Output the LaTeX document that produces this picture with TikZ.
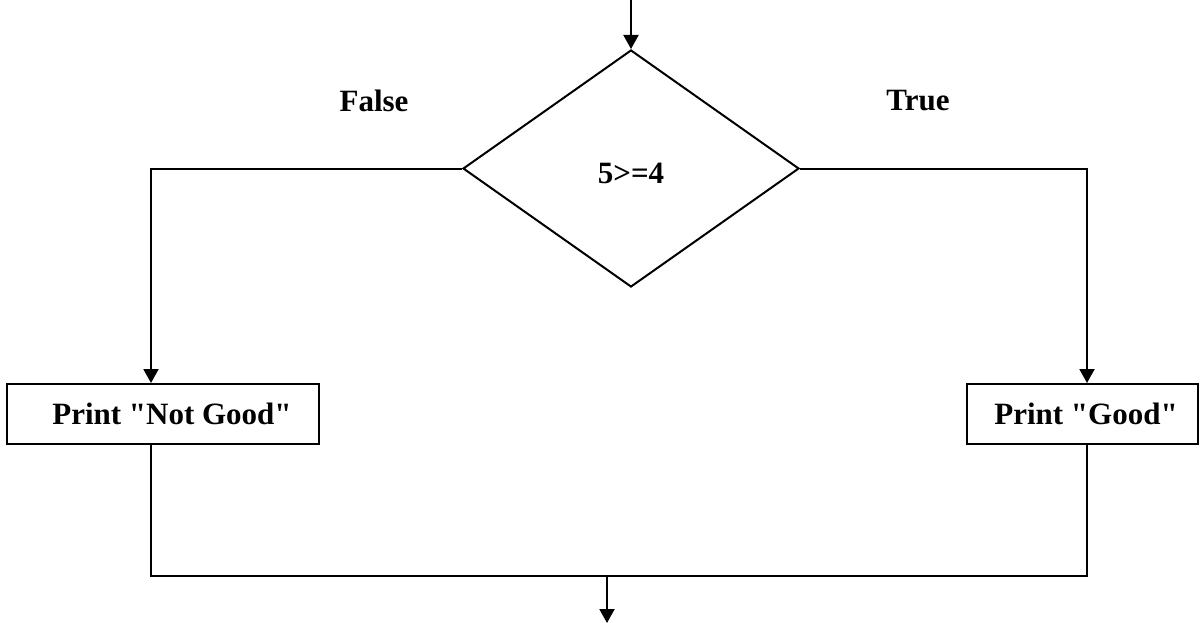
\documentclass[tikz,border=0pt]{standalone}
\usepackage{fontspec}
\setmainfont{Liberation Serif}[Ligatures=TeXOff]
\usetikzlibrary{arrows.meta,shapes.geometric}
\begin{document}
\begin{tikzpicture}[x=1pt,y=-1pt,line width=2pt,
  flow/.style={-{Triangle[length=14pt,width=15pt]}},
  txt/.style={font=\fontsize{31}{36}\selectfont\bfseries,inner sep=0pt},
  decision/.style={draw,diamond,minimum width=336pt,minimum height=237pt,inner sep=0pt},
  printbox/.style={draw,minimum height=60pt,inner sep=0pt}]
\useasboundingbox (0,0) rectangle (1201,623);

% column positions of the two branches and the join
\coordinate (lcol) at (151,0);
\coordinate (rcol) at (1087,0);
\coordinate (start) at (631,0);
\coordinate (join) at (607,576);
\coordinate (finish) at (607,623);

% decision
\node[decision] (dec) at (631,168.5) {};
\node[txt] (cond) at (631,173) {5>=4};
\node[txt] (flab) at (374,101) {False};
\node[txt] (tlab) at (918,101) {True};

% the two print boxes
\node[printbox,minimum width=312pt] (nb) at (163,414) {};
\node[txt] (nbt) at (172,414) {Print "Not Good"};
\node[printbox,minimum width=231pt] (gb) at (1082.5,414) {};
\node[txt] (gbt) at (1086,414) {Print "Good"};

% connectors
\draw[flow] (start) -- (dec.north);
\draw[flow] (dec.west) -| (lcol |- nb.north);
\draw[flow] (dec.east) -| (rcol |- gb.north);
\draw (lcol |- nb.south) -- (lcol |- join) -- (rcol |- join) -- (rcol |- gb.south);
\draw[flow] (join) -- (finish);
\end{tikzpicture}
\end{document}
